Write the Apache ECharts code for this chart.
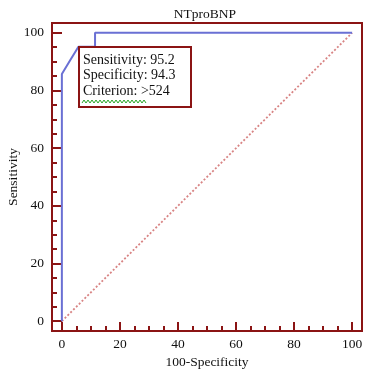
<!DOCTYPE html>
<html>
<head>
<meta charset="utf-8">
<script src="https://cdn.jsdelivr.net/npm/echarts@6/dist/echarts.min.js"></script>
<style>
  html, body { margin: 0; padding: 0; background: #fff; }
  #chart { width: 366px; height: 374px; }
</style>
</head>
<body>
<div id="chart"></div>
<script>
// ROC curve points (100-Specificity, Sensitivity)
const rocX = [0, 0, 2.86, 5.71, 11.43, 11.43, 100];
const rocY = [0, 85.7, 90.5, 95.2, 95.2, 100, 100];
// reference diagonal
const diagX = [0, 100];
const diagY = [0, 100];
const majorTicks = [0, 20, 40, 60, 80, 100];
const minorTicks = [0, 5, 10, 15, 20, 25, 30, 35, 40, 45, 50, 55, 60, 65, 70, 75, 80, 85, 90, 95, 100];
const statLines = ["Sensitivity: 95.2", "Specificity: 94.3", "Criterion: >524"];

const DARK_RED = "#8b1414";
const FONT = "'Liberation Serif', 'DejaVu Serif', serif";

const chart = echarts.init(document.getElementById("chart"));

const axisBase = (extra) => Object.assign({
    type: "value",
    min: -3.4,
    max: 103.4,
    splitLine: { show: false },
    axisLine: { show: true, onZero: false, lineStyle: { color: DARK_RED, width: 2 } },
}, extra);

// green squiggle under "Criterion"
const wave = [];
for (let i = 0; i <= 32; i++) wave.push([82 + i * 2, i % 2 ? 100 : 103]);

chart.setOption({
    animation: false,
    backgroundColor: "#fff",
    title: {
        text: "NTproBNP",
        left: 200,
        top: 2,
        textAlign: "center",
        textStyle: { fontFamily: FONT, fontSize: 13.5, fontWeight: "normal", color: "#111" },
    },
    grid: {
        left: 52, right: 4, top: 23, bottom: 43,
        outerBoundsMode: "none",
        containLabel: false,
        show: true, borderColor: DARK_RED, borderWidth: 2,
    },
    xAxis: [
        axisBase({
            name: "100-Specificity",
            nameLocation: "middle",
            nameGap: 24,
            nameMoveOverlap: false,
            nameTextStyle: { fontFamily: FONT, fontSize: 13.5, color: "#111" },
            axisTick: { inside: true, length: 9, customValues: majorTicks, lineStyle: { color: DARK_RED, width: 2 } },
            axisLabel: { customValues: majorTicks, margin: 6, fontFamily: FONT, fontSize: 13.5, color: "#111" },
        }),
        axisBase({
            position: "bottom",
            axisTick: { inside: true, length: 5, customValues: minorTicks, lineStyle: { color: DARK_RED, width: 2 } },
            axisLabel: { show: false },
        }),
    ],
    yAxis: [
        axisBase({
            name: "Sensitivity",
            nameLocation: "middle",
            nameGap: 32,
            nameMoveOverlap: false,
            nameTextStyle: { fontFamily: FONT, fontSize: 13.5, color: "#111" },
            axisTick: { inside: true, length: 10, customValues: majorTicks, lineStyle: { color: DARK_RED, width: 2 } },
            axisLabel: { customValues: majorTicks, margin: 8, fontFamily: FONT, fontSize: 13.5, color: "#111" },
        }),
        axisBase({
            position: "left",
            axisTick: { inside: true, length: 5, customValues: minorTicks, lineStyle: { color: DARK_RED, width: 2 } },
            axisLabel: { show: false },
        }),
    ],
    series: [
        {
            type: "line",
            data: diagX.map((x, i) => [x, diagY[i]]),
            symbol: "none",
            lineStyle: { color: "#d88484", width: 1.8, type: [2, 2] },
            z: 2,
        },
        {
            type: "line",
            data: rocX.map((x, i) => [x, rocY[i]]),
            symbol: "none",
            lineStyle: { color: "#6a70d4", width: 2 },
            z: 3,
        },
    ],
    graphic: [
        {
            type: "rect",
            shape: { x: 79, y: 47, width: 112, height: 60 },
            style: { fill: "#fff", stroke: DARK_RED, lineWidth: 2 },
            z: 10,
        },
        ...statLines.map((t, i) => ({
            type: "text",
            x: 83,
            y: 53 + i * 15.5,
            style: { text: t, fontFamily: FONT, fontSize: 14, fill: "#111" },
            z: 11,
        })),
        {
            type: "polyline",
            shape: { points: wave },
            style: { stroke: "#2aa52a", lineWidth: 1, fill: null },
            z: 11,
        },
    ],
});
</script>
</body>
</html>
